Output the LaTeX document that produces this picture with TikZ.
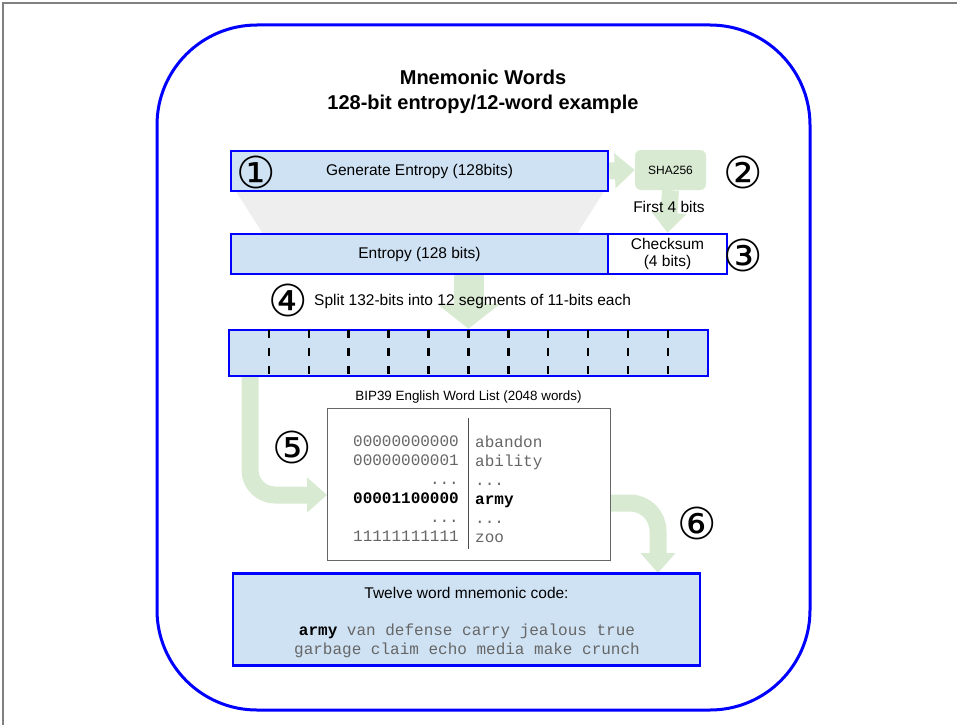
\documentclass[tikz,border=0pt]{standalone}
\usepackage{fontspec}
\setmainfont{Liberation Sans}
\setmonofont{Liberation Mono}
\newfontfamily\symfont{DejaVu Sans}
\usetikzlibrary{arrows.meta}
\definecolor{boxblue}{HTML}{CFE2F3}
\definecolor{edgeblue}{HTML}{0000FF}
\definecolor{flowgreen}{HTML}{D9EAD3}
\definecolor{funnelgray}{HTML}{EEEEEE}
\definecolor{wordgray}{HTML}{666666}
\newcommand{\txtsize}{\fontsize{15.5}{18}\selectfont}
\newcommand{\monosize}{\fontsize{16}{19}\selectfont}
\newcommand{\circnum}[1]{{\symfont\fontsize{44}{44}\selectfont #1}}
\pgfdeclarelayer{background}
\pgfsetlayers{background,main}

\begin{document}
\begin{tikzpicture}[x=1pt, y=-1pt, every node/.style={inner sep=0pt, font=\txtsize},
	bluebox/.style={draw=edgeblue, line width=2.5pt, fill=boxblue, minimum height=40pt},
	flow/.style={flowgreen, line width=17pt},
	flowtip/.style={-{Triangle[width=34pt, length=20pt]}}]
	\useasboundingbox (0,0) rectangle (957,725);
	% frame
	\draw[gray, line width=1.5pt] (3,725) -- (3,3) -- (957,3);
	\draw[edgeblue, line width=3pt, rounded corners=100pt] (157,25) rectangle (810,710);
	% Title
	\node[font=\fontsize{20}{25}\selectfont\bfseries, align=center] (title) at (483,92) {Mnemonic Words\\128-bit entropy/12-word example};
	% Nodes
	\node[bluebox, minimum width=377pt] (gen) at (419.5,171) {Generate Entropy (128bits)};
	\node[fill=flowgreen, rounded corners=6pt, minimum width=71pt, minimum height=40pt, font=\fontsize{12}{14}\selectfont] (sha) at (670.5,170) {SHA256};
	\node[bluebox, minimum width=377pt] (ent) at (419.5,254) {Entropy (128 bits)};
	\node[draw=edgeblue, line width=2.5pt, fill=white, minimum width=119pt, minimum height=40pt, align=center, font=\fontsize{15.5}{17}\selectfont] (cs) at (667.5,254) {Checksum\\(4 bits)};
	\node[bluebox, minimum width=479pt, minimum height=46pt] (bar) at (468.5,353) {};
	\foreach \k in {1,...,11}
		\draw[black, line width=2.5pt, dash pattern=on 8pt off 10pt] (229+\k*39.9,330) -- (229+\k*39.9,376);
	% Word list
	\node[font=\fontsize{13.4}{16}\selectfont] (listcap) at (468.5,397) {BIP39 English Word List (2048 words)};
	\node[draw=black!60, line width=1pt, fill=white, minimum width=283pt, minimum height=152pt] (list) at (468.5,484) {};
	\draw[black!70, line width=1pt] (468,418) -- (468,549);
	\node[anchor=east, font=\monosize\ttfamily, align=right, text=wordgray] (codes) at (459,489) {00000000000\\00000000001\\...\\\textcolor{black}{\bfseries 00001100000}\\...\\11111111111};
	\node[anchor=west, font=\monosize\ttfamily, align=left, text=wordgray] (words) at (475,489) {abandon\\ability\\...\\\textcolor{black}{\bfseries army}\\...\\zoo};
	% Result
	\node[bluebox, minimum width=467pt, minimum height=92pt] (code) at (466.5,619.5) {};
	\node (codecap) at (466.5,593) {Twelve word mnemonic code:};
	\node[font=\monosize\ttfamily, align=center, text=wordgray] (phrase) at (467,641) {\textcolor{black}{\bfseries army} van defense carry jealous true\\garbage claim echo media make crunch};
	% Steps
	\node (n1) at (256,172) {\circnum{①}};
	\node (n2) at (743,172) {\circnum{②}};
	\node (n3) at (743,255) {\circnum{③}};
	\node (n4) at (288,300) {\circnum{④}};
	\node[anchor=west] (split) at (314,301) {Split 132-bits into 12 segments of 11-bits each};
	\node (n5) at (292,447) {\circnum{⑤}};
	\node (n6) at (697,523) {\circnum{⑥}};
	\node (first) at (669,207) {First 4 bits};
	% Arrows
	\coordinate (a5) at (250,376);
	\coordinate (b5) at (327,495);
	\coordinate (a6) at (610,503);
	\coordinate (b6) at (658,573);
	\begin{pgfonlayer}{background}
		\fill[funnelgray] (235,190) -- (605,190) -- (577,234) -- (263,234) -- cycle;
		\draw[flow, flowtip] (gen.east) -- (sha.west);
		\draw[flow, flowtip] (sha.south) -- (cs.north);
		\draw[flow, line width=30pt, -{Triangle[width=62pt, length=25pt]}] (ent.south -| bar.north) -- (bar.north);
		\draw[flow, flowtip, rounded corners=25pt] (a5) |- (b5);
		\draw[flow, flowtip, rounded corners=28pt] (a6) -| (b6);
	\end{pgfonlayer}
\end{tikzpicture}
\end{document}
